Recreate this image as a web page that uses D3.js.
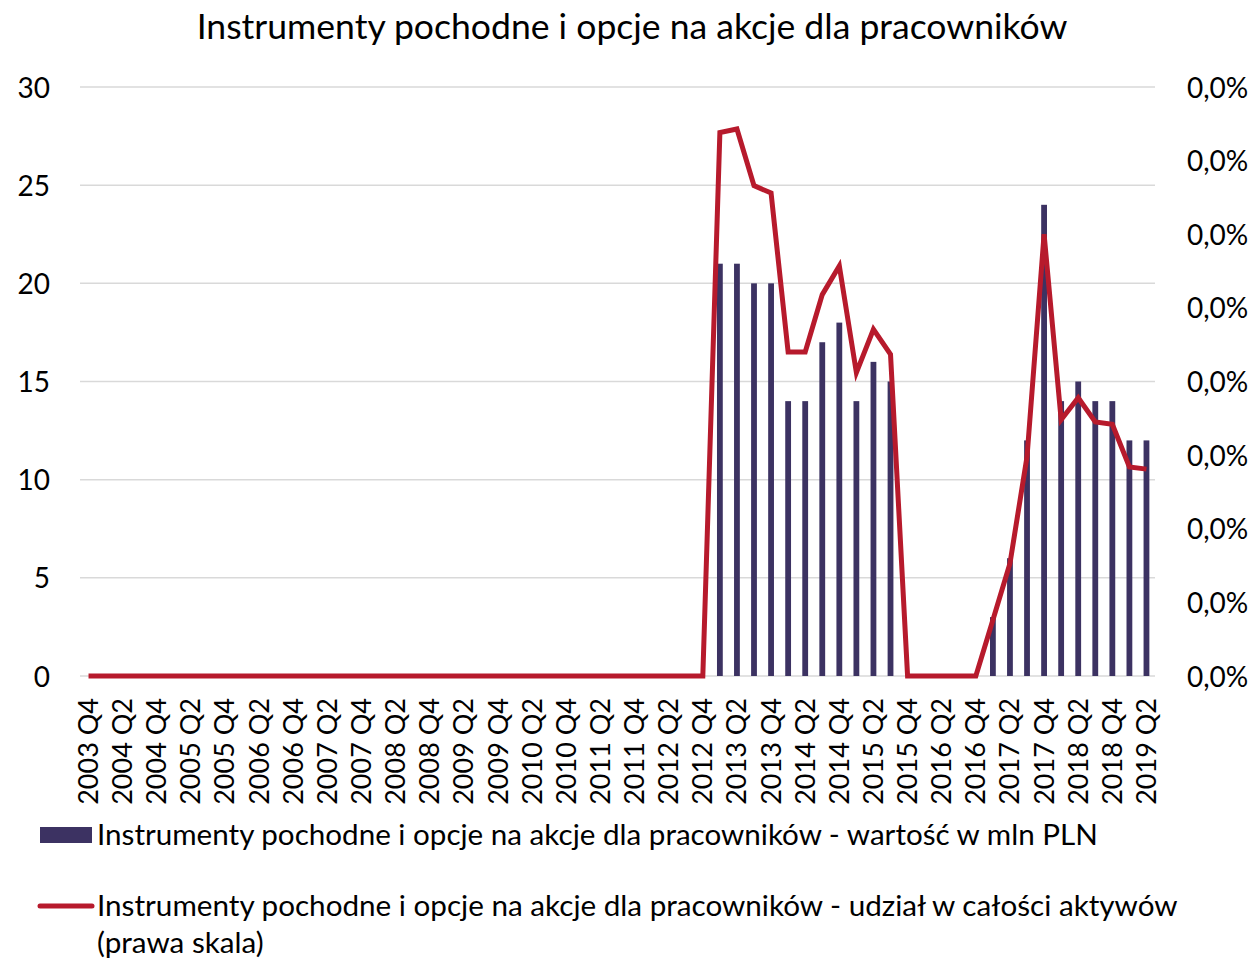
<!DOCTYPE html>
<html>
<head>
<meta charset="utf-8">
<script src="https://cdn.jsdelivr.net/npm/d3@7"></script>
<style>
  body { margin: 0; background: #fff; }
  svg { display: block; }
  text { font-family: Lato, "Open Sans", sans-serif; fill: #000; }
</style>
</head>
<body>
<svg id="chart" width="1253" height="959"></svg>
<script>
const categories = [
  "2003 Q4",
  "2004 Q1","2004 Q2","2004 Q3","2004 Q4",
  "2005 Q1","2005 Q2","2005 Q3","2005 Q4",
  "2006 Q1","2006 Q2","2006 Q3","2006 Q4",
  "2007 Q1","2007 Q2","2007 Q3","2007 Q4",
  "2008 Q1","2008 Q2","2008 Q3","2008 Q4",
  "2009 Q1","2009 Q2","2009 Q3","2009 Q4",
  "2010 Q1","2010 Q2","2010 Q3","2010 Q4",
  "2011 Q1","2011 Q2","2011 Q3","2011 Q4",
  "2012 Q1","2012 Q2","2012 Q3","2012 Q4",
  "2013 Q1","2013 Q2","2013 Q3","2013 Q4",
  "2014 Q1","2014 Q2","2014 Q3","2014 Q4",
  "2015 Q1","2015 Q2","2015 Q3","2015 Q4",
  "2016 Q1","2016 Q2","2016 Q3","2016 Q4",
  "2017 Q1","2017 Q2","2017 Q3","2017 Q4",
  "2018 Q1","2018 Q2","2018 Q3","2018 Q4",
  "2019 Q1","2019 Q2"
];
// value in mln PLN (left axis)
const valueMln = [
  0,
  0,0,0,0, 0,0,0,0, 0,0,0,0, 0,0,0,0,
  0,0,0,0, 0,0,0,0, 0,0,0,0, 0,0,0,0,
  0,0,0,0,
  21,21,20,20,
  14,14,17,18,
  14,16,15,0,
  0,0,0,0,
  3,6,12,24,
  14,15,14,14,
  12,12
];
// share of total assets (right axis, fraction)
const shareOfAssets = [
  0,
  0,0,0,0, 0,0,0,0, 0,0,0,0, 0,0,0,0,
  0,0,0,0, 0,0,0,0, 0,0,0,0, 0,0,0,0,
  0,0,0,0,
  0.000369,0.0003715,0.000333,0.000328,
  0.00022,0.00022,0.000259,0.0002785,
  0.000206,0.0002355,0.0002185,0,
  0,0,0,0,
  0.000038,0.0000765,0.000149,0.0003,
  0.000174,0.000189,0.0001725,0.000171,
  0.000142,0.0001405
];
const leftTicks = [0,5,10,15,20,25,30];
const rightTicks = [0,0.00005,0.0001,0.00015,0.0002,0.00025,0.0003,0.00035,0.0004];
const titleText = "Instrumenty pochodne i opcje na akcje dla pracowników";
const legendBar = "Instrumenty pochodne i opcje na akcje dla pracowników - wartość w mln PLN";
const legendLine1 = "Instrumenty pochodne i opcje na akcje dla pracowników - udział w całości aktywów";
const legendLine2 = "(prawa skala)";

const barColor = "#3c3262";
const lineColor = "#b71a2c";

const svg = d3.select("#chart");
const plotLeft = 80, plotRight = 1155, plotTop = 87, plotBottom = 676;

const x = d3.scaleBand().domain(categories).range([plotLeft, plotRight])
  .paddingInner(0.66).paddingOuter(0.33);
const yL = d3.scaleLinear().domain([0,30]).range([plotBottom, plotTop]);
const yR = d3.scaleLinear().domain([0,0.0004]).range([plotBottom, plotTop]);

const pl = d3.formatLocale({decimal: ",", thousands: " ", grouping: [3], currency: ["", " zł"]});
const pctFmt = pl.format(".1%");

function fit(sel, target) {
  const node = sel.node();
  const fs = parseFloat(sel.attr("font-size"));
  const w = node.getComputedTextLength();
  if (w > 0) sel.attr("font-size", (fs * target / w).toFixed(2));
  return sel;
}

// gridlines
svg.append("g").selectAll("line").data(leftTicks).join("line")
  .attr("x1", plotLeft).attr("x2", plotRight)
  .attr("y1", d => yL(d)).attr("y2", d => yL(d))
  .attr("stroke", "#d9d9d9").attr("stroke-width", 1.5);

// left axis
const gL = svg.append("g").attr("transform", `translate(${plotLeft - 30},0)`)
  .call(d3.axisLeft(yL).tickValues(leftTicks).tickSize(0).tickPadding(0));
gL.select(".domain").remove();
gL.selectAll("text").attr("font-family", "Lato, sans-serif").attr("font-size", 28)
  .attr("fill", "#000").attr("dy", "0.36em");

// right axis
const gR = svg.append("g").attr("transform", `translate(${plotRight + 32},0)`)
  .call(d3.axisRight(yR).tickValues(rightTicks).tickFormat(pctFmt).tickSize(0).tickPadding(0));
gR.select(".domain").remove();
gR.selectAll("text").attr("font-family", "Lato, sans-serif").attr("font-size", 28)
  .attr("fill", "#000").attr("dy", "0.36em");

// bars
svg.append("g").selectAll("rect").data(categories.map((c,i)=>({c, v: valueMln[i]})).filter(d => d.v > 0))
  .join("rect")
  .attr("x", d => x(d.c)).attr("width", x.bandwidth())
  .attr("y", d => yL(d.v)).attr("height", d => yL(0) - yL(d.v))
  .attr("fill", barColor);

// line
const line = d3.line().x((d,i) => x(categories[i]) + x.bandwidth()/2).y(d => yR(d));
svg.append("path").datum(shareOfAssets)
  .attr("d", line).attr("fill", "none").attr("stroke", lineColor)
  .attr("stroke-width", 5).attr("stroke-linejoin", "miter").attr("stroke-miterlimit", 4);

// x axis labels (every other quarter)
const xLabels = categories.filter((c,i) => i % 2 === 0);
const gX = svg.append("g").attr("transform", `translate(0,${plotBottom})`)
  .call(d3.axisBottom(x).tickValues(xLabels).tickSize(0).tickPadding(0));
gX.select(".domain").remove();
gX.selectAll("text")
  .attr("font-family", "'Liberation Sans', Arial, sans-serif").attr("font-size", 27)
  .attr("fill", "#000")
  .attr("text-anchor", "end")
  .attr("transform", "translate(0,22) rotate(-90)")
  .attr("x", 0).attr("y", 0).attr("dy", "0.35em");

// title
const t = svg.append("text").attr("x", 632).attr("y", 39).attr("text-anchor", "middle")
  .attr("font-size", 34).text(titleText);
fit(t, 871);

// legend
svg.append("rect").attr("x", 40).attr("y", 827).attr("width", 52).attr("height", 16).attr("fill", barColor);
const l1 = svg.append("text").attr("x", 97).attr("y", 845).attr("font-size", 27).text(legendBar);
fit(l1, 1001);
svg.append("line").attr("x1", 40).attr("x2", 92).attr("y1", 906).attr("y2", 906)
  .attr("stroke", lineColor).attr("stroke-width", 5).attr("stroke-linecap", "round");
const l2 = svg.append("text").attr("x", 97).attr("y", 916).attr("font-size", 27).text(legendLine1);
fit(l2, 1081);
svg.append("text").attr("x", 97).attr("y", 953).attr("font-size", l2.attr("font-size")).text(legendLine2);
</script>
</body>
</html>
